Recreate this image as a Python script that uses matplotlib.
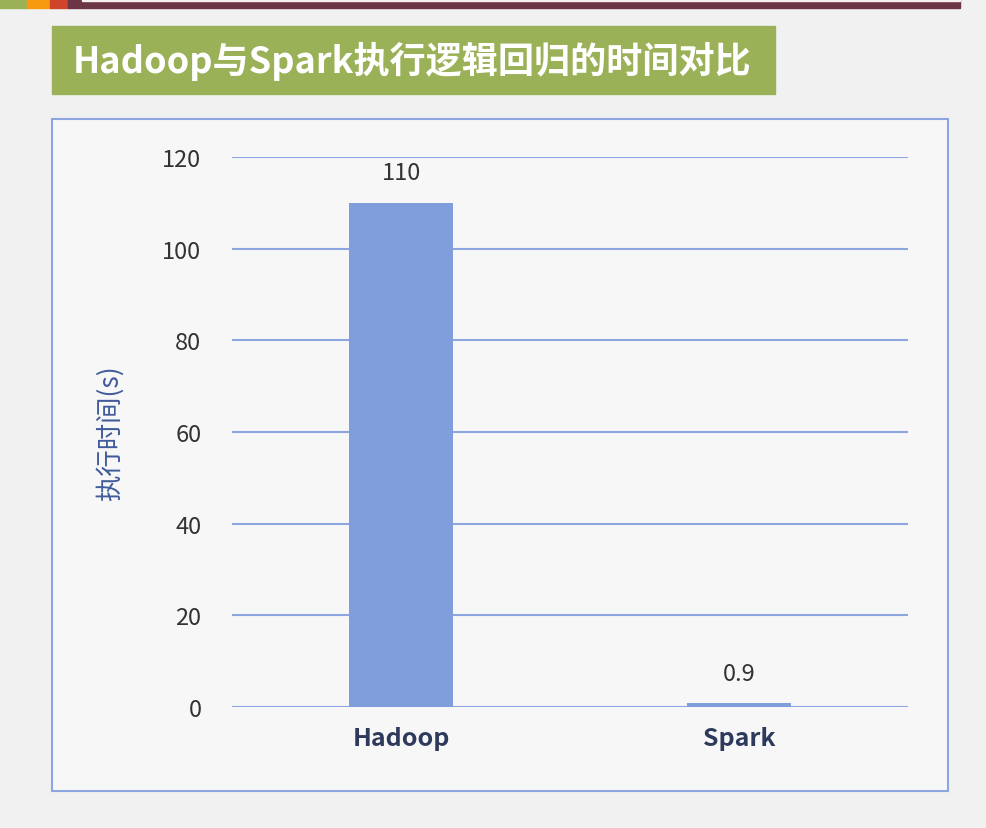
import matplotlib.pyplot as plt
from matplotlib.patches import Rectangle

plt.rcParams['font.family'] = ['Noto Sans CJK SC', 'DejaVu Sans']

categories = ['Hadoop', 'Spark']
times = [110, 0.9]
labels = ['110', '0.9']
yticks = [0, 20, 40, 60, 80, 100, 120]

W, H = 986, 829
fig = plt.figure(figsize=(9.86, 8.29), dpi=100)
fig.patch.set_facecolor('#f1f1f1')

def box(x0, y0, x1, y1, **kw):
    # pixel coords, top-left origin
    fig.patches.append(Rectangle((x0 / W, 1 - y1 / H), (x1 - x0) / W, (y1 - y0) / H,
                                 transform=fig.transFigure, zorder=0, **kw))

# top decoration strip
box(0, 0, 27, 9, color='#9bb158')
box(27, 0, 50, 9, color='#f79a10')
box(50, 0, 68, 9, color='#d0452a')
box(68, 0, 960, 9, color='#6b3546')
box(82, 0, 960, 2, color='#f4eef0')

# title bar
box(52, 27, 775, 95, color='#9bb158')
fig.text(73 / W, 1 - 61 / H, 'Hadoop与Spark执行逻辑回归的时间对比', color='white',
         fontsize=26, fontweight='bold', va='center', ha='left')

# chart frame
box(52, 120, 948, 792, facecolor='#f7f7f7', edgecolor='#8ea6e0', linewidth=1.5)

ax = fig.add_axes([232 / W, 121 / H, 676 / W, 550 / H])
ax.set_zorder(5)
ax.set_facecolor('none')
x = range(len(categories))
ax.bar(x, times, width=0.31, color='#7f9edb', zorder=3)
for xi, v, lab in zip(x, times, labels):
    ax.text(xi, v + 4, lab, ha='center', va='bottom', fontsize=17, color='#333333')
ax.set_xlim(-0.5, 1.5)
ax.set_ylim(0, 120)
ax.set_yticks(yticks)
ax.yaxis.grid(True, color='#8ea6e0', linewidth=1.5, zorder=0)
ax.set_axisbelow(True)
ax.set_xticks(list(x))
ax.set_xticklabels(categories, fontsize=18, fontweight='bold', color='#2e3a5c')
for t in ax.get_yticklabels():
    t.set_fontsize(17)
    t.set_color('#333333')
ax.tick_params(length=0, pad=22)
ax.tick_params(axis='x', pad=14)
for s in ax.spines.values():
    s.set_visible(False)
ax.set_ylabel('执行时间(s)', fontsize=19, color='#3f5a9a', labelpad=28)

fig.savefig('out.png', dpi=100, facecolor=fig.get_facecolor())
